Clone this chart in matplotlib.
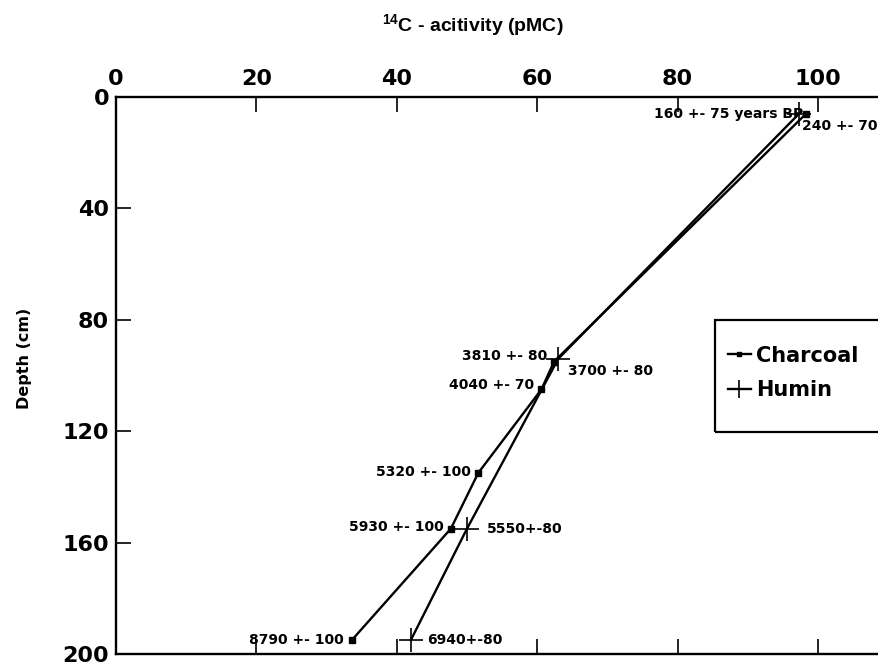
import matplotlib
matplotlib.use("Agg")
import matplotlib.pyplot as plt
from matplotlib.patches import Rectangle

plt.rcParams['font.family'] = ['DejaVu Sans']
plt.rcParams['font.weight'] = 'bold'
plt.rcParams['mathtext.fontset'] = 'custom'
plt.rcParams['mathtext.bf'] = 'Liberation Sans:bold'
plt.rcParams['mathtext.rm'] = 'Liberation Sans:bold'
plt.rcParams['mathtext.default'] = 'bf'

# Data
charcoal_pmc = [98.3, 62.4, 60.6, 51.6, 47.7, 33.6]
charcoal_depth = [6, 95, 105, 135, 155, 195]
charcoal_labels = ["240 +- 70", "3810 +- 80", "4040 +- 70", "5320 +- 100", "5930 +- 100", "8790 +- 100"]

humin_pmc = [97.3, 63.0, 50.0, 42.0]
humin_depth = [6, 94, 155, 195]
humin_labels = ["160 +- 75 years BP", "3700 +- 80", "5550+-80", "6940+-80"]

xticks = [0, 20, 40, 60, 80, 100]
yticks = [0, 40, 80, 120, 160, 200]

fig = plt.figure(figsize=(8.79, 6.66), dpi=100)
W, H = 879, 666
left_px, top_px, bottom_px = 116, 97, 654
px_per_unit = 7.02
xmax = 110
ax = fig.add_axes([left_px / W, 1 - bottom_px / H,
                   xmax * px_per_unit / W, (bottom_px - top_px) / H])

ax.plot(charcoal_pmc, charcoal_depth, color='black', lw=1.7, marker='s',
        markersize=4, label='Charcoal')
ax.plot(humin_pmc, humin_depth, color='black', lw=1.7, marker='+',
        markersize=17, mew=1.2, label='Humin')

ax.set_xlim(0, xmax)
ax.set_ylim(200, 0)
ax.xaxis.tick_top()
ax.set_xticks(xticks)
ax.set_yticks(yticks)
ax.tick_params(axis='x', which='both', direction='in', length=11, width=1.2,
               top=True, bottom=True, labelsize=16, pad=6)
ax.tick_params(axis='y', direction='in', length=11, width=1.2, labelsize=16, pad=5)
for lab in ax.get_xticklabels() + ax.get_yticklabels():
    lab.set_fontweight('bold')
for s in ax.spines.values():
    s.set_linewidth(1.7)

fig.text(382 / W, 1 - 25 / H, r"$^{14}$C - acitivity (pMC)", fontsize=14,
         fontweight='bold', ha='left', va='center', family='Liberation Sans')
fig.text(25 / W, 1 - 358 / H, "Depth (cm)", fontsize=11.5, fontweight='bold',
         ha='center', va='center', rotation=90)

fs = 10
c_offsets = [((-3, -9), 'left'), ((-5, 4), 'right'), ((-5, 3), 'right'),
             ((-5, 1), 'right'), ((-5, 1), 'right'), ((-6, 0), 'right')]
for x, y, t, (off, ha) in zip(charcoal_pmc, charcoal_depth, charcoal_labels, c_offsets):
    ax.annotate(t, (x, y), xytext=off, textcoords='offset points', ha=ha,
                va='center', fontsize=fs, fontweight='bold')
h_offsets = [((3, 0), 'right'), ((7, -9), 'left'), ((14, 0), 'left'), ((12, 0), 'left')]
for x, y, t, (off, ha) in zip(humin_pmc, humin_depth, humin_labels, h_offsets):
    ax.annotate(t, (x, y), xytext=off, textcoords='offset points', ha=ha,
                va='center', fontsize=fs, fontweight='bold')

# legend frame (extends past the right edge, as in the original)
fig.patches.append(Rectangle((715 / W, 1 - 432 / H), 200 / W, 112 / H,
                             transform=fig.transFigure, fill=False,
                             edgecolor='black', linewidth=1.6))
leg = ax.legend(loc='center left', bbox_to_anchor=(728 / W, 1 - 373 / H),
                bbox_transform=fig.transFigure, frameon=False,
                prop={'size': 15, 'weight': 'bold'},
                handlelength=1.1, handletextpad=0.25, borderpad=0,
                labelspacing=0.7, markerscale=0.8, borderaxespad=0)

fig.savefig('out.png', dpi=100)
